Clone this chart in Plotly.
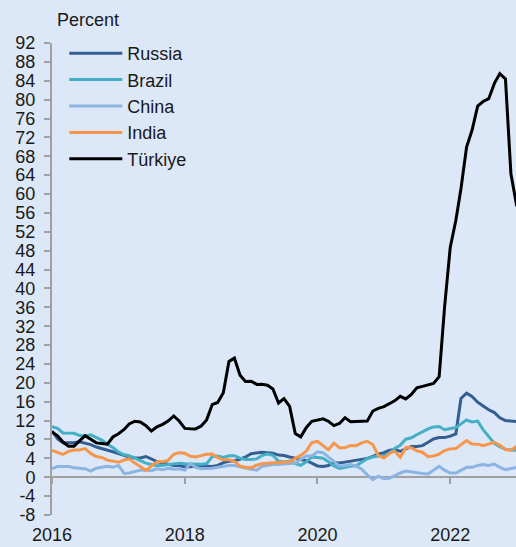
import pandas as pd
import plotly.graph_objects as go

start_month = "2016-01-01"

russia = [9.8, 8.1, 7.3, 7.3, 7.3, 7.5, 7.2, 6.9, 6.4, 6.1, 5.8, 5.4,
          5.0, 4.6, 4.3, 4.1, 4.1, 4.4, 3.9, 3.3, 3.0, 2.7, 2.5, 2.5,
          2.2, 2.2, 2.4, 2.4, 2.4, 2.3, 2.5, 3.1, 3.4, 3.5, 3.8, 4.3,
          5.0, 5.2, 5.3, 5.2, 5.1, 4.7, 4.6, 4.3, 4.0, 3.8, 3.5, 3.0,
          2.4, 2.3, 2.5, 3.1, 3.0, 3.2, 3.4, 3.6, 3.7, 4.0, 4.4, 4.9,
          5.2, 5.7, 5.8, 5.5, 6.0, 6.5, 6.5, 6.7, 7.4, 8.1, 8.4, 8.4,
          8.7, 9.2, 16.7, 17.8, 17.1, 15.9, 15.1, 14.3, 13.7, 12.6, 12.0, 11.9,
          11.8, 11.0]

brazil = [10.71, 10.36, 9.39, 9.28, 9.32, 8.84, 8.74, 8.97, 8.48, 7.87, 6.99, 6.29,
          5.35, 4.76, 4.57, 4.08, 3.60, 3.00, 2.71, 2.46, 2.54, 2.70, 2.80, 2.95,
          2.86, 2.84, 2.68, 2.76, 2.86, 4.39, 4.48, 4.19, 4.53, 4.56, 4.05, 3.75,
          3.78, 3.89, 4.58, 4.94, 4.66, 3.37, 3.22, 3.43, 2.89, 2.54, 3.27, 4.31,
          4.19, 4.01, 3.30, 2.40, 1.88, 2.13, 2.31, 2.44, 3.14, 3.92, 4.31, 4.52,
          4.56, 5.20, 6.10, 6.76, 8.06, 8.35, 8.99, 9.68, 10.25, 10.67, 10.74, 10.06,
          10.38, 10.54, 11.30, 12.13, 11.73, 11.89, 10.07, 8.73, 7.17, 6.47, 5.90, 5.79,
          5.77, 5.60]

china = [1.8, 2.3, 2.3, 2.3, 2.0, 1.9, 1.8, 1.3, 1.9, 2.1, 2.3, 2.1,
         2.5, 0.8, 0.9, 1.2, 1.5, 1.5, 1.4, 1.8, 1.6, 1.9, 1.7, 1.8,
         1.5, 2.9, 2.1, 1.8, 1.8, 1.9, 2.1, 2.3, 2.5, 2.5, 2.2, 1.9,
         1.7, 1.5, 2.3, 2.5, 2.7, 2.7, 2.8, 2.8, 3.0, 3.8, 4.5, 4.5,
         5.4, 5.2, 4.3, 3.3, 2.4, 2.5, 2.7, 2.4, 1.7, 0.5, -0.5, 0.2,
         -0.3, -0.2, 0.4, 0.9, 1.3, 1.1, 1.0, 0.8, 0.7, 1.5, 2.3, 1.5,
         0.9, 0.9, 1.5, 2.1, 2.1, 2.5, 2.7, 2.5, 2.8, 2.1, 1.6, 1.8,
         2.1, 1.0]

india = [5.69, 5.26, 4.83, 5.47, 5.76, 5.77, 6.07, 5.05, 4.39, 4.20, 3.63, 3.41,
         3.17, 3.65, 3.89, 2.99, 2.18, 1.46, 2.36, 3.28, 3.28, 3.58, 4.88, 5.21,
         5.07, 4.44, 4.28, 4.58, 4.87, 4.92, 4.17, 3.69, 3.70, 3.38, 2.33, 2.11,
         1.97, 2.57, 2.86, 2.99, 3.05, 3.18, 3.15, 3.28, 3.99, 4.62, 5.54, 7.35,
         7.59, 6.58, 5.84, 7.22, 6.27, 6.23, 6.73, 6.69, 7.27, 7.61, 6.93, 4.59,
         4.06, 5.03, 5.52, 4.23, 6.30, 6.26, 5.59, 5.30, 4.35, 4.48, 4.91, 5.66,
         6.01, 6.07, 6.95, 7.79, 7.04, 7.01, 6.71, 7.00, 7.41, 6.77, 5.88, 5.72,
         6.52, 6.44]

turkiye = [9.58, 8.78, 7.46, 6.57, 6.58, 7.64, 8.79, 8.05, 7.28, 7.16, 7.00, 8.53,
           9.22, 10.13, 11.29, 11.87, 11.72, 10.90, 9.79, 10.68, 11.20, 11.90, 12.98, 11.92,
           10.35, 10.26, 10.23, 10.85, 12.15, 15.39, 15.85, 17.90, 24.52, 25.24, 21.62, 20.30,
           20.35, 19.67, 19.71, 19.50, 18.71, 15.72, 16.65, 15.01, 9.26, 8.55, 10.56, 11.84,
           12.15, 12.37, 11.86, 10.94, 11.39, 12.62, 11.76, 11.77, 11.75, 11.89, 14.03, 14.60,
           14.97, 15.61, 16.19, 17.14, 16.59, 17.53, 18.95, 19.25, 19.58, 19.89, 21.31, 36.08,
           48.69, 54.44, 61.14, 69.97, 73.50, 78.62, 79.60, 80.21, 83.45, 85.51, 84.39, 64.27,
           57.68, 55.18]

series_names = ["Russia", "Brazil", "China", "India", "Türkiye"]
series_values = [russia, brazil, china, india, turkiye]
series_colors = ["#335E92", "#45AFC6", "#8CB4E3", "#F7964A", "#000000"]

y_tick_values = list(range(-8, 93, 4))
y_tick_labels = [str(v) for v in y_tick_values]  # ASCII hyphen minus, as in the source
x_tick_labels = ["2016", "2018", "2020", "2022"]

dates = pd.date_range(start_month, periods=len(turkiye), freq="MS")

bg = "#DCE8F7"
axis_gray = "#A0A0A0"
font_family = "Liberation Sans, Arial, sans-serif"

fig = go.Figure()
for name, vals, col in zip(series_names, series_values, series_colors):
    fig.add_trace(go.Scatter(x=dates, y=vals, name=name, mode="lines",
                             legendgroup=name,
                             line=dict(color=col, width=3)))

# invisible helper trace so the zero-line axis with ticks is rendered
fig.add_trace(go.Scatter(x=dates, y=turkiye, xaxis="x2", mode="lines",
                         line=dict(width=0, color="rgba(0,0,0,0)"),
                         showlegend=False, hoverinfo="skip"))

ymin, ymax = -8, 92
tick_dates = [pd.Timestamp(f"{y}-01-01") for y in x_tick_labels]
fig.update_layout(
    width=516, height=547,
    margin=dict(l=52, r=0, t=43, b=32, autoexpand=False),
    paper_bgcolor=bg, plot_bgcolor=bg,
    font=dict(family=font_family, size=18, color="#1A1A1A"),
    showlegend=True,
    legend=dict(x=0.0265, y=1.017, xanchor="left", yanchor="top",
                bgcolor="rgba(0,0,0,0)", font=dict(size=18),
                tracegroupgap=0, itemwidth=53),
    xaxis=dict(type="date", range=["2016-01-01", "2022-12-29"],
               tickvals=tick_dates, ticktext=x_tick_labels,
               showgrid=False, zeroline=False, showline=False,
               ticks="outside", ticklen=3, tickcolor="rgba(0,0,0,0)",
               tickfont=dict(size=18), automargin=False),
    xaxis2=dict(type="date", matches="x", overlaying="x", anchor="free",
                position=(0 - ymin) / (ymax - ymin),
                tickvals=tick_dates,
                showticklabels=False, showgrid=False, zeroline=False,
                showline=True, linecolor=axis_gray, linewidth=2,
                ticks="outside", ticklen=6, tickwidth=2, tickcolor=axis_gray,
                layer="below traces", automargin=False),
    yaxis=dict(range=[ymin, ymax], tickvals=y_tick_values, ticktext=y_tick_labels,
               showgrid=False, zeroline=False,
               showline=True, linecolor=axis_gray, linewidth=2,
               ticks="outside", ticklen=6, tickwidth=2, tickcolor=axis_gray,
               ticklabelstandoff=5,
               tickfont=dict(size=18), automargin=False),
)

fig.add_annotation(text="Percent", xref="paper", yref="paper",
                   x=0.0065, y=1.0, xanchor="left", yanchor="middle",
                   yshift=23, showarrow=False, font=dict(size=18))

fig.write_html("out.html",
               config={"displayModeBar": False},
               post_script="document.body.style.margin='0';"
                           "document.body.style.overflow='hidden';"
                           "document.body.style.background='%s';" % bg)
